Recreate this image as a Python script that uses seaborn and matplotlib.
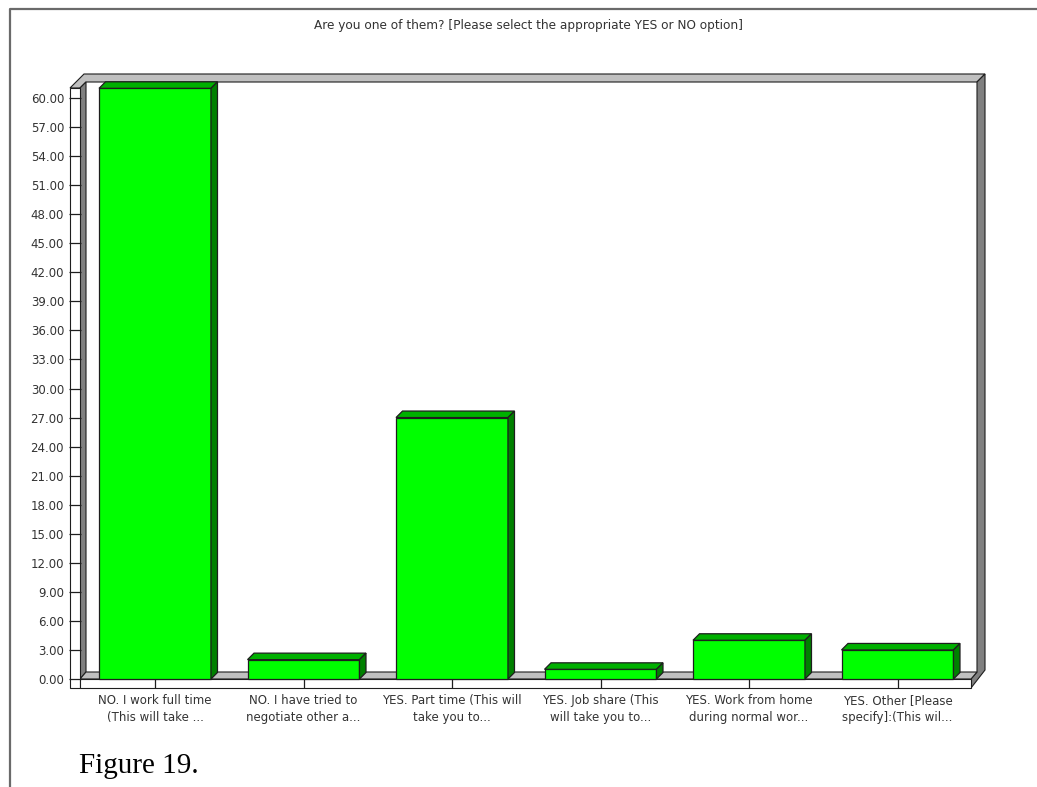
import matplotlib
matplotlib.use("Agg")
import matplotlib.pyplot as plt
import seaborn as sns
from matplotlib.patches import Polygon, Rectangle
from matplotlib.lines import Line2D

# ---- data -------------------------------------------------------------
categories = [
    "NO. I work full time\n(This will take ...",
    "NO. I have tried to\nnegotiate other a...",
    "YES. Part time (This will\ntake you to...",
    "YES. Job share (This\nwill take you to...",
    "YES. Work from home\nduring normal wor...",
    "YES. Other [Please\nspecify]:(This wil...",
]
values = [61, 2, 27, 1, 4, 3]
y_ticks = list(range(0, 61, 3))
y_tick_labels = [f"{v:.2f}" for v in y_ticks]
title = "Are you one of them? [Please select the appropriate YES or NO option]"
caption = "Figure 19."

# ---- figure setup -----------------------------------------------------
W, H = 1037, 787
sns.set_style("white")
plt.rcParams["font.family"] = ["DejaVu Sans"]

fig = plt.figure(figsize=(W / 100, H / 100), dpi=100)
fig.patch.set_facecolor("white")


def fp(x, y):
    """pixel position (from top-left) -> figure fraction"""
    return (x / W, 1 - y / H)


# plotting area: category slots span the front plane of the chart box
ax = fig.add_axes([80.75 / W, 1 - 679 / H, 891 / W, 581 / H])
ax.patch.set_alpha(0)

LIGHT = "#c0c0c0"
DARK = "#808080"
EDGE = "#1e1e1e"


def box_poly(pts, fc, zorder=0.5, lw=0.8):
    ax.add_patch(Polygon([fp(x, y) for x, y in pts], closed=True,
                         transform=fig.transFigure, clip_on=False,
                         facecolor=fc, edgecolor=EDGE, linewidth=lw,
                         zorder=zorder))


# ---- 3D chart box (walls and floor) -------------------------------------
# back wall top rim + left wall top
box_poly([(70, 88), (84, 74), (985, 74), (977, 82), (86, 82), (80, 88)], LIGHT)
# right wall
box_poly([(977, 82), (985, 74), (985, 670), (971, 688), (971, 679), (977, 672)], DARK)
# left wall inner face
box_poly([(80, 88), (86, 82), (86, 672), (80, 679)], DARK)
# floor top
box_poly([(80, 679), (86, 672), (977, 672), (971, 679)], LIGHT)
# left wall front face
box_poly([(70, 88), (80, 88), (80, 688), (70, 688)], "white")
# floor front face
box_poly([(80, 679), (971, 679), (971, 688), (80, 688)], "white")

# ---- bars ---------------------------------------------------------------
sns.barplot(x=categories, y=values, color="#00ff00", saturation=1,
            width=0.754, edgecolor=EDGE, linewidth=0.9, ax=ax, zorder=3)
ax.set_xlim(-0.5, 5.5)
ax.set_ylim(0, 60)

# depth faces of each bar, derived from the bar rectangles
dx = 6.5 / 148.5
dy = 6.5 / (581 / 60)
for p in list(ax.patches):
    if not isinstance(p, Rectangle):
        continue
    x0, w, h = p.get_x(), p.get_width(), p.get_height()
    top = Polygon([(x0, h), (x0 + dx, h + dy), (x0 + w + dx, h + dy), (x0 + w, h)],
                  closed=True, facecolor="#00b000", edgecolor=EDGE,
                  linewidth=0.9, clip_on=False, zorder=3)
    side = Polygon([(x0 + w, 0), (x0 + w, h), (x0 + w + dx, h + dy), (x0 + w + dx, dy)],
                   closed=True, facecolor="#008000", edgecolor=EDGE,
                   linewidth=0.9, clip_on=False, zorder=3)
    ax.add_patch(top)
    ax.add_patch(side)
    p.set_clip_on(False)

# ---- axes, ticks, labels -----------------------------------------------
for s in ax.spines.values():
    s.set_visible(False)
ax.set_xlabel("")
ax.set_ylabel("")

ax.set_yticks(y_ticks)
ax.set_yticklabels(y_tick_labels)
ax.tick_params(axis="y", which="major", left=True, direction="out", length=9.0,
               width=0.9, color=EDGE, pad=3, labelsize=8.5, labelcolor="#333333")
ax.tick_params(axis="x", which="major", bottom=True, direction="out", length=6.5,
               width=0.9, color=EDGE, pad=4.5, labelsize=8.5, labelcolor="#333333")
for lbl in ax.get_xticklabels():
    lbl.set_linespacing(1.35)
    lbl.set_horizontalalignment("center")

# title and caption
fig.text(*fp(528, 25), title, ha="center", va="center", fontsize=8.7,
         color="#333333")
fig.text(*fp(79, 773), caption, ha="left", va="baseline", fontsize=21,
         family=["Liberation Serif", "DejaVu Serif"], color="black")

# outer page frame
fig.add_artist(Line2D([10 / W, 10 / W, 1.0], [0.0, 1 - 8.5 / H, 1 - 8.5 / H],
                      transform=fig.transFigure, color="#6a6a6a", linewidth=1.6))

fig.savefig("out.png", dpi=100, facecolor="white")
